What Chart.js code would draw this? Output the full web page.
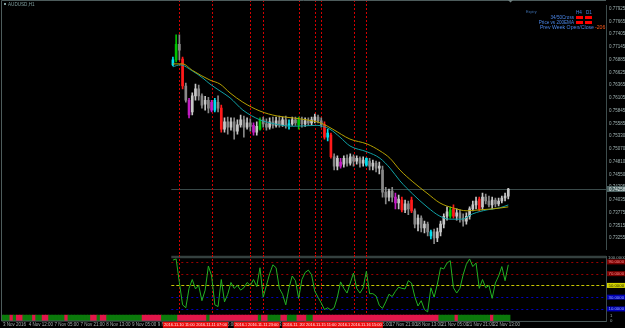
<!DOCTYPE html>
<html>
<head>
<meta charset="utf-8">
<script src="https://cdn.jsdelivr.net/npm/chart.js@4.4.1/dist/chart.umd.min.js"></script>
<style>
  html, body { margin: 0; padding: 0; background: #000; }
  #wrap { position: relative; width: 625px; height: 328px; overflow: hidden; background: #000; }
  #main { position: absolute; left: 0; top: 0; }
  #osc { position: absolute; left: 0; top: 255px; }
</style>
</head>
<body>
<div id="wrap">
  <canvas id="main" width="625" height="255" style="width:625px;height:255px"></canvas>
  <canvas id="osc" width="625" height="73" style="width:625px;height:73px"></canvas>
</div>
<script>
// ---- DATA (AUDUSD H1, one slot = one bar position) ----
const firstSlot = 53;
const opens = [.7678,.7688,.7720,.7690,.7635,.7606,.7582,.7615,.7629,.7615,.7598,.7606,.7602,.7586,.7602,.7590,
  .7547,.7562,.7551,.7562,.7543,.7556,.7566,.7551,.7560,.7555,.7541,.7547,.7566,.7558,.7551,.7562,.7555,.7564,
  .7556,.7566,.7555,.7558,.7566,.7556,.7566,.7558,.7564,.7560,.7566,.7572,.7564,.7556,.7531,.7535,.7491,.7472,
  .7480,.7476,.7488,.7478,.7491,.7482,.7488,.7478,.7474,.7482,.7472,.7478,.7468,.7464,.7419,.7409,.7421,.7409,
  .7397,.7403,.7383,.7395,.7403,.7381,.7354,.7366,.7346,.7354,.7330,.7338,.7326,.7338,.7354,.7370,.7370,.7385,
  .7370,.7377,.7366,.7360,.7370,.7385,.7393,.7405,.7389,.7409,.7401,.7393,.7403,.7395,.7401,.7407,.7411];
const closes = [.7688,.7720,.7708,.7635,.7606,.7576,.7615,.7629,.7615,.7596,.7606,.7590,.7586,.7606,.7590,.7547,
  .7562,.7551,.7562,.7543,.7556,.7566,.7551,.7560,.7553,.7541,.7553,.7566,.7558,.7551,.7562,.7555,.7564,.7556,
  .7566,.7555,.7558,.7566,.7560,.7566,.7558,.7564,.7560,.7566,.7572,.7564,.7556,.7531,.7539,.7491,.7472,.7488,
  .7472,.7488,.7478,.7491,.7482,.7488,.7478,.7484,.7488,.7472,.7478,.7468,.7472,.7419,.7409,.7421,.7409,.7397,
  .7405,.7383,.7395,.7385,.7381,.7354,.7366,.7346,.7354,.7338,.7338,.7326,.7338,.7354,.7370,.7379,.7383,.7370,
  .7377,.7366,.7360,.7370,.7385,.7393,.7401,.7385,.7409,.7401,.7393,.7403,.7395,.7401,.7407,.7411,.7425];
const highs = [.7694,.7739,.7739,.7694,.7641,.7610,.7621,.7639,.7637,.7619,.7614,.7612,.7606,.7610,.7615,.7596,
  .7570,.7572,.7570,.7570,.7566,.7576,.7574,.7570,.7568,.7560,.7562,.7570,.7572,.7568,.7570,.7572,.7572,.7574,
  .7572,.7574,.7566,.7572,.7572,.7572,.7572,.7570,.7570,.7572,.7578,.7576,.7570,.7562,.7547,.7539,.7497,.7493,
  .7488,.7493,.7495,.7497,.7495,.7493,.7491,.7491,.7489,.7488,.7484,.7482,.7480,.7472,.7429,.7425,.7429,.7417,
  .7413,.7409,.7403,.7401,.7409,.7385,.7373,.7371,.7360,.7358,.7342,.7344,.7346,.7360,.7375,.7389,.7389,.7393,
  .7385,.7383,.7375,.7377,.7389,.7401,.7409,.7409,.7417,.7415,.7411,.7409,.7407,.7407,.7411,.7417,.7427];
const lows = [.7676,.7684,.7688,.7629,.7602,.7570,.7576,.7606,.7606,.7590,.7586,.7580,.7582,.7582,.7582,.7541,
  .7541,.7537,.7545,.7527,.7537,.7551,.7531,.7547,.7543,.7535,.7535,.7545,.7551,.7545,.7547,.7549,.7551,.7551,
  .7553,.7549,.7547,.7555,.7555,.7547,.7551,.7553,.7555,.7556,.7560,.7560,.7551,.7527,.7523,.7488,.7464,.7464,
  .7468,.7470,.7472,.7474,.7472,.7476,.7470,.7472,.7472,.7464,.7464,.7460,.7456,.7409,.7395,.7401,.7399,.7385,
  .7385,.7379,.7377,.7373,.7377,.7346,.7340,.7338,.7336,.7330,.7324,.7314,.7318,.7330,.7346,.7362,.7366,.7366,
  .7362,.7358,.7350,.7354,.7364,.7381,.7385,.7381,.7383,.7395,.7389,.7385,.7389,.7391,.7397,.7401,.7405];
// bar colouring of the custom indicator: n plain, r red, g green, c cyan, m magenta
const candleTone = 'cgnrnmnnnnnnmcnrnnnnnnnnnmngnnnnnnnncnngnnnnnnnrcrnnmnnnnnnncnnnnnnnnmnrnnrnnnnncnnnnngrnnnnnnnrnnnnnnnnn';

const slowMaSlots = [53,56,59,64.5,67.6,70.7,74.7,80,85.3,90.2,97.7,99.5,102.6,107.9,113.2,117.2,120.3,123.4,127.4,131.8,135.8,139.8,144.2,148.2,152.2,157];
const slowMaValues = [.7680,.7680,.7667,.7647,.7639,.7621,.7602,.7584,.7574,.7570,.7562,.7558,.7547,.7527,.7517,.7503,.7488,.7464,.7440,.7417,.7397,.7387,.7381,.7383,.7385,.7389];
const fastMaSlots = [53,55.2,59.2,62.3,64.5,67.6,70.7,74.7,80,83.1,90.2,97.7,101.7,104.8,107.9,113.2,117.2,120.3,123.4,127.4,131.8,135.8,138.9,142.6,146,150.4,154.3,157];
const fastMaValues = [.7674,.7678,.7665,.7651,.7639,.7625,.7611,.7586,.7566,.7560,.7553,.7555,.7547,.7531,.7513,.7501,.7488,.7468,.7442,.7415,.7389,.7370,.7364,.7364,.7375,.7383,.7387,.7393];

const bidPrice = 0.74258;
const priceTicks = [0.77925,0.77665,0.77405,0.77145,0.76885,0.76625,0.76365,0.76105,0.75845,0.75585,
  0.75330,0.75070,0.74810,0.74550,0.74295,0.74035,0.73775,0.73515,0.73255];

const oscValues = [93,95,55,17,12,45,60,44,50,24, 42,83,66,17,14,60,22,35,55,45,
  50,42,46,55,50,60,48,80,30,50, 70,85,80,45,35,17,46,66,58,28,
  60,72,76,68,40,30,20,9,12,8, 12,30,56,45,37,54,71,45,37,46,
  74,36,36,32,16,11,22,35,31,40, 47,45,44,58,54,31,15,24,9,5,
  46,30,52,80,78,88,92,46,37,45, 68,86,95,82,88,45,60,46,50,28,
  54,66,82,58,85];
const oscLevels = [90, 70, 50, 30, 10];
const oscLevelKinds = ['hi', 'hi', 'mid', 'lo', 'lo'];

const bandRuns = [['G',3],['R',1],['G',1],['R',2],['G',3],['R',1],['G',2],['R',2],['G',5],['R',1],['G',7],
  ['R',2],['G',1],['R',2],['G',11],['R',6],['G',5],['R',9],['G',1],['R',15],['G',1],['R',2],['G',4],['R',2],
  ['G',3],['R',3],['G',2],['R',39],['G',5],['R',1],['G',10],['R',1],['G',5]];

const eventSlots = [55, 65, 77, 81, 92, 97, 99, 109, 113];
const eventLabels = ['2016.11.10 11:00','2016.11.11 07:00','2016.11.11 15:00','2016.11.11 23:00',
  '2016.11.14 21:00','2016.11.15 07:00','2016.11.15 11:00','2016.11.16 07:00','2016.11.16 15:00'];

const timeSlots = [0,8,16,24,32,40,48,56,64,72,80,88,96,104,112,120,128,136,144,152];
const timeLabels = ['3 Nov 2016','4 Nov 12:00','7 Nov 05:00','7 Nov 21:00','8 Nov 13:00','9 Nov 05:00',
  '9 Nov 21:00','10 Nov 13:00','11 Nov 05:00','11 Nov 21:00','14 Nov 13:00','15 Nov 05:00','15 Nov 21:00',
  '16 Nov 13:00','17 Nov 05:00','17 Nov 21:00','18 Nov 13:00','21 Nov 05:00','21 Nov 21:00','22 Nov 13:00'];

// ---- STYLE ----
const FONT = 'Liberation Sans';
const C = {
  axis:'#3d4c4c', tick:'#9fb1b1', event:'#d40000', bid:'#3a4a4a',
  slow:'#b4a000', fast:'#10a0a4', osc:'#22b022',
  bandG:'#0b7a0b', bandR:'#e2164a', info:'#4a86e8'
};
const SLOT_MAX = 187.3;

function toneColor(t, up) {
  if (t === 'r') return '#ff1a1a';
  if (t === 'g') return '#00c400';
  if (t === 'c') return '#00e0f0';
  if (t === 'm') return '#c21cc2';
  return up ? '#c6c6c6' : '#888888';
}
const candleColors = opens.map((o, i) => toneColor(candleTone[i], closes[i] >= o));

function txt(ctx, s, x, y, color, size, align) {
  ctx.font = size + 'px "' + FONT + '"';
  ctx.fillStyle = color;
  ctx.textAlign = align || 'left';
  ctx.textBaseline = 'middle';
  ctx.fillText(s, x, y);
}

// ---- MAIN PRICE PANE ----
const mainDecor = {
  id: 'mainDecor',
  beforeDatasetsDraw(chart) {
    const {ctx, chartArea: a, scales: {x, y}} = chart;
    ctx.save();
    ctx.lineWidth = 1;
    const by = Math.round(y.getPixelForValue(bidPrice)) + 0.5;
    ctx.strokeStyle = C.bid;
    ctx.beginPath(); ctx.moveTo(x.getPixelForValue(firstSlot - 0.5), by); ctx.lineTo(a.right, by); ctx.stroke();
    ctx.strokeStyle = C.event;
    ctx.setLineDash([2, 2]);
    eventSlots.forEach(s => {
      const px = Math.round(x.getPixelForValue(s)) + 0.5;
      ctx.beginPath(); ctx.moveTo(px, 0); ctx.lineTo(px, chart.height); ctx.stroke();
    });
    ctx.restore();
  },
  afterDraw(chart) {
    const {ctx, chartArea: a, scales: {y}} = chart;
    ctx.save();
    // frame
    ctx.strokeStyle = '#4d5c5c'; ctx.lineWidth = 1;
    ctx.beginPath(); ctx.moveTo(1.5, chart.height); ctx.lineTo(1.5, 0.5); ctx.lineTo(a.right, 0.5); ctx.stroke();
    // symbol
    ctx.fillStyle = '#7d9c9c'; ctx.fillRect(4, 3, 2, 2);
    txt(ctx, 'AUDUSD,H1', 8, 4.5, '#7d9c9c', 4.6);
    // chart shift marker
    ctx.fillStyle = '#6f7f7f';
    ctx.beginPath(); ctx.moveTo(508, 0); ctx.lineTo(513, 0); ctx.lineTo(510.5, 2.5); ctx.fill();
    // info panel
    txt(ctx, 'Expiry', 526, 12, '#3f70b0', 3.8);
    txt(ctx, 'H4', 576, 13, C.info, 4.6);
    txt(ctx, 'D1', 586, 13, C.info, 4.6);
    txt(ctx, '34/50Cross', 574, 17.5, C.info, 4.6, 'right');
    txt(ctx, 'Price vs 200EMA', 574, 22.5, C.info, 4.6, 'right');
    ctx.fillStyle = '#ff0000';
    [16, 21].forEach(ry => { ctx.fillRect(576, ry, 7, 3); ctx.fillRect(585, ry, 7, 3); });
    txt(ctx, 'Prev Week Open/Close', 594, 28, C.info, 5.2, 'right');
    txt(ctx, '-206', 595, 28, '#ff5a1a', 5.2);
    // bid label on the price axis
    const by = Math.round(y.getPixelForValue(bidPrice));
    ctx.fillStyle = '#4c6262'; ctx.fillRect(a.right + 1, by - 3, 18, 6);
    txt(ctx, bidPrice.toFixed(5), a.right + 3, by + 0.5, '#e6eeee', 4.5);
    ctx.restore();
  }
};

new Chart(document.getElementById('main'), {
  type: 'bar',
  data: {
    datasets: [
      { type: 'line', data: slowMaSlots.map((s, i) => ({x: s, y: slowMaValues[i]})), borderColor: C.slow,
        borderWidth: 1, pointRadius: 0, cubicInterpolationMode: 'monotone', order: 0 },
      { type: 'line', data: fastMaSlots.map((s, i) => ({x: s, y: fastMaValues[i]})), borderColor: C.fast,
        borderWidth: 1, pointRadius: 0, cubicInterpolationMode: 'monotone', order: 0 },
      { data: opens.map((o, i) => ({x: firstSlot + i, y: [o, closes[i]]})), backgroundColor: candleColors,
        barThickness: 2, minBarLength: 1, grouped: false, borderWidth: 0, order: 1 },
      { data: lows.map((l, i) => ({x: firstSlot + i, y: [l, highs[i]]})), backgroundColor: candleColors,
        barThickness: 1, grouped: false, borderWidth: 0, order: 2 }
    ]
  },
  options: {
    responsive: false, animation: false, devicePixelRatio: 1,
    layout: { padding: { left: 2, top: 2, right: 0, bottom: 1 } },
    plugins: { legend: { display: false }, tooltip: { enabled: false } },
    scales: {
      x: { type: 'linear', min: 0, max: SLOT_MAX, display: false, offset: false },
      y: {
        position: 'right', min: 0.73027, max: 0.77984,
        afterFit(s) { s.width = 19; },
        afterBuildTicks(s) { s.ticks = priceTicks.map(v => ({value: v})); },
        grid: { display: false, drawTicks: false },
        border: { display: true, color: C.axis },
        ticks: { autoSkip: false, color: C.tick, padding: 3, font: { size: 4.5, family: FONT },
          callback: v => Number(v).toFixed(5) }
      }
    }
  },
  plugins: [mainDecor]
});

// ---- OSCILLATOR PANE + BAND + TIME AXIS ----
const bandStates = [];
bandRuns.forEach(([st, n]) => { for (let k = 0; k < n; k++) bandStates.push(st); });

const levelStyle = {
  hi:  { line: '#9a0000', dash: [2, 3], box: '#7a0000', text: '#ff8a8a' },
  mid: { line: '#c8c800', dash: [3, 2], box: '#d6d600', text: '#202000' },
  lo:  { line: '#0000c8', dash: [2, 3], box: '#0000b4', text: '#9ab0ff' }
};

const oscDecor = {
  id: 'oscDecor',
  beforeDatasetsDraw(chart) {
    const {ctx, chartArea: a, scales: {x, y}} = chart;
    const x0 = x.getPixelForValue(firstSlot - 0.5);
    ctx.save();
    ctx.strokeStyle = '#34403f'; ctx.lineWidth = 2.5;
    ctx.beginPath(); ctx.moveTo(x0, y.getPixelForValue(100) + 1); ctx.lineTo(a.right, y.getPixelForValue(100) + 1); ctx.stroke();
    ctx.lineWidth = 1;
    oscLevels.forEach((v, i) => {
      const st = levelStyle[oscLevelKinds[i]];
      const py = Math.round(y.getPixelForValue(v)) + 0.5;
      ctx.strokeStyle = st.line; ctx.setLineDash(st.dash);
      ctx.beginPath(); ctx.moveTo(x0, py); ctx.lineTo(a.right, py); ctx.stroke();
    });
    ctx.strokeStyle = C.event; ctx.setLineDash([2, 2]);
    const yb = y.getPixelForValue(0);
    eventSlots.forEach(s => {
      const px = Math.round(x.getPixelForValue(s)) + 0.5;
      ctx.beginPath(); ctx.moveTo(px, 0); ctx.lineTo(px, yb); ctx.stroke();
    });
    ctx.restore();
  },
  afterDraw(chart) {
    const {ctx, chartArea: a, scales: {x, y}} = chart;
    ctx.save();
    ctx.strokeStyle = '#4d5c5c'; ctx.lineWidth = 1;
    ctx.beginPath(); ctx.moveTo(1.5, 0); ctx.lineTo(1.5, a.bottom); ctx.lineTo(a.right, a.bottom + 0.5); ctx.stroke();
    // level labels on the right axis
    txt(ctx, '100.0000', a.right + 2, y.getPixelForValue(100) + 2, C.tick, 4.3);
    oscLevels.forEach((v, i) => {
      const st = levelStyle[oscLevelKinds[i]];
      const py = y.getPixelForValue(v);
      ctx.fillStyle = st.box; ctx.fillRect(a.right + 1, py - 2.5, 18, 5);
      txt(ctx, v.toFixed(4), a.right + 2.5, py + 0.3, st.text, 4.3);
    });
    txt(ctx, '1', a.right + 4, y.getPixelForValue(-1), C.tick, 4.3);
    txt(ctx, '0', a.right + 4, y.getPixelForValue(-9.5), C.tick, 4.3);
    // time axis
    const ty = a.bottom + 3.8;
    timeSlots.forEach((s, i) => {
      const px = x.getPixelForValue(s);
      txt(ctx, timeLabels[i], px + 1, ty, '#a4acac', 4.5);
    });
    // event boxes
    eventSlots.forEach((s, i) => {
      const px = x.getPixelForValue(s);
      ctx.fillStyle = '#ee1010'; ctx.fillRect(px - 16.5, a.bottom + 0.8, 33, 6);
      txt(ctx, eventLabels[i], px, ty, '#ffe8e8', 4, 'center');
    });
    ctx.restore();
  }
};

new Chart(document.getElementById('osc'), {
  type: 'bar',
  data: {
    datasets: [
      { type: 'line', data: oscValues.map((v, i) => ({x: firstSlot + i, y: v})), borderColor: C.osc,
        borderWidth: 1, pointRadius: 0, tension: 0, order: 0 },
      { data: bandStates.map((st, i) => ({x: i, y: [-0.5, -10.5]})),
        backgroundColor: bandStates.map(st => st === 'G' ? C.bandG : C.bandR),
        barThickness: 3.6, grouped: false, borderWidth: 0, order: 1 }
    ]
  },
  options: {
    responsive: false, animation: false, devicePixelRatio: 1,
    layout: { padding: { left: 2, top: 1, right: 0, bottom: 7 } },
    plugins: { legend: { display: false }, tooltip: { enabled: false } },
    scales: {
      x: { type: 'linear', min: 0, max: SLOT_MAX, display: false, offset: false },
      y: {
        position: 'right', min: -10.5, max: 100,
        afterFit(s) { s.width = 19; },
        grid: { display: false, drawTicks: false },
        border: { display: true, color: C.axis },
        ticks: { display: false }
      }
    }
  },
  plugins: [oscDecor]
});
</script>
</body>
</html>
